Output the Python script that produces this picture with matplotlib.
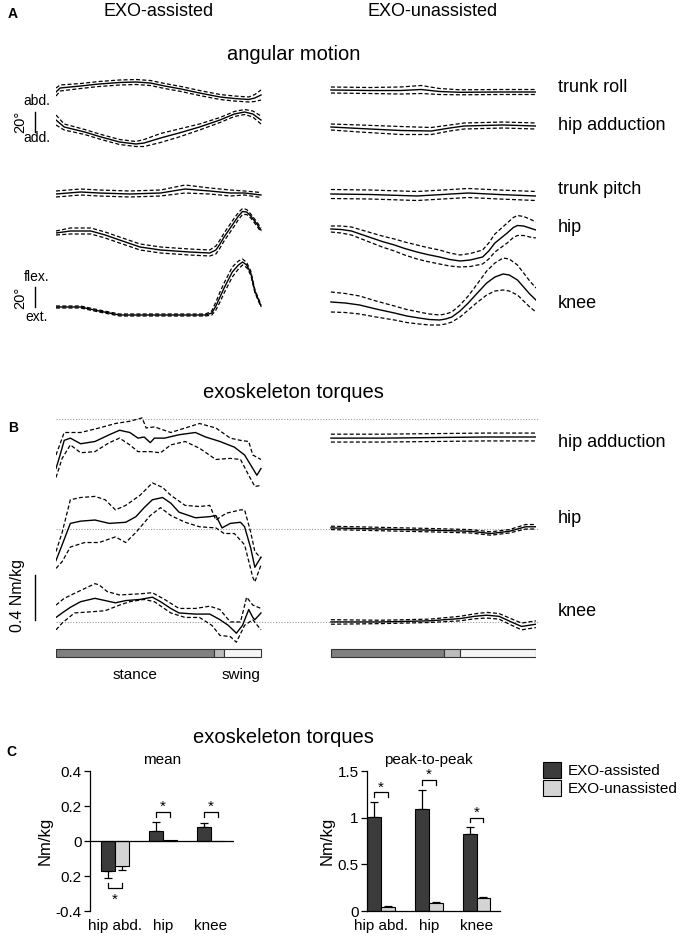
import numpy as np
import matplotlib
matplotlib.use('Agg')
import matplotlib.pyplot as plt
from matplotlib.patches import Patch

plt.rcParams['font.family'] = ['Liberation Sans', 'DejaVu Sans']

# ---------------------------------------------------------------
# A: angular motion (deg) over gait cycle (%), ex = EXO-assisted, un = EXO-unassisted
roll_ex_t = [0, 2, 12, 21, 31, 39, 46, 53, 61, 70, 80, 87, 94, 97, 100]
roll_ex_m = [0, 4, 6, 8, 9.5, 10, 9, 6, 3, -1, -5, -6.5, -7.5, -6, -3]
roll_ex_sd = [4, 3, 2.5, 2.5, 2.5, 2.5, 2.5, 2.5, 2.5, 2.5, 2.5, 2.5, 2.5, 3.5, 5]

hadd_ex_t = [0, 4, 14, 22, 31, 39, 43, 51, 60, 70, 80, 87, 92, 96, 100]
hadd_ex_m = [0, -7, -12, -17, -22, -24, -23, -18, -13, -7, 0, 6, 8, 6, 0]
hadd_ex_sd = [5, 3, 2.5, 2.5, 2.5, 2.5, 3.5, 4.5, 4, 3, 2.5, 2.5, 2.5, 3, 4]

pitch_ex_t = [0, 12, 21, 36, 51, 63, 75, 85, 92, 100]
pitch_ex_m = [0, 2, 1, 0, 1, 5, 3, 1, 1, -1]
pitch_ex_sd = [3, 3, 3, 3, 3, 4, 3, 3, 2, 2.5]

hip_ex_t = [0, 7, 17, 24, 31, 41, 51, 65, 75, 78, 80, 82, 85, 87, 89, 91, 93, 95, 98, 100]
hip_ex_m = [0, 2, 2, -2, -7, -14, -17, -19, -20, -17, -11, -4, 5, 11, 17, 21.5, 21, 17, 9, 3]
hip_ex_sd = [2, 3, 3, 3, 3, 3, 3, 3, 3, 4, 4, 4, 4, 4, 3.5, 3, 2.5, 2, 2, 2]

knee_ex_t = [0, 12, 21, 31, 51, 73, 76, 78, 80, 82, 84, 86, 89, 91, 93, 95, 97, 100]
knee_ex_m = [0, 0, -4, -8, -8, -8, -6, 1, 10, 19, 27, 35, 42, 45, 42, 34, 16, 1]
knee_ex_sd = [1, 1, 1, 1, 1, 1, 2, 4, 5, 5, 5, 5, 4, 3, 2.5, 2, 1.5, 1]

roll_un_t = [0, 19, 34, 44, 53, 63, 82, 100]
roll_un_m = [0, -0.5, -0.5, 0.5, -1.5, -2.3, -2, -2]
roll_un_sd = [3, 3, 3.5, 4, 3, 2.5, 2.5, 2.5]

hadd_un_t = [0, 14, 34, 49, 58, 65, 84, 100]
hadd_un_m = [0, -1.5, -3.5, -4, -1, 1, 2, 1]
hadd_un_sd = [3, 3.5, 4, 3.5, 3, 3, 3, 3]

pitch_un_t = [0, 19, 42, 67, 82, 100]
pitch_un_m = [0, -0.5, -2, 1, -0.5, -2]
pitch_un_sd = [4.5, 4.5, 4.5, 4.5, 4.5, 4.5]

hip_un_t = [0, 5, 10, 15, 20, 25, 31, 36, 42, 47, 53, 58, 63, 68, 74, 77, 80, 83, 86, 89, 91, 94, 97, 100]
hip_un_m = [0, -0.5, -2, -5.5, -9, -12.5, -16, -19.5, -23, -25.5, -28, -30.5, -32, -31, -28, -22,
            -14, -9, -4, 1.5, 3.5, 3, 1, -1]
hip_un_sd = [3, 3.5, 4, 4.5, 5, 5.5, 6, 6.5, 7, 7, 7, 6.5, 6, 6.5, 7, 8, 9, 9.5, 10, 10, 10,
             9.5, 9, 8]

knee_un_t = [0, 7, 14, 22, 31, 37, 43, 48, 53, 56, 59, 63, 67, 71, 76, 80, 84, 87, 91, 94, 97, 100]
knee_un_m = [0, -1, -3, -7, -11, -14, -16, -17.5, -18, -17, -15, -9, -1, 8, 19, 25, 28, 27, 22,
             15, 8, 2]
knee_un_sd = [10, 9.5, 9, 8, 7, 6.5, 6, 5.5, 5, 5, 5, 6, 7, 9, 12, 14, 16, 16, 15, 14, 13, 12]

# ---------------------------------------------------------------
# B: exoskeleton torques (Nm/kg); assisted: mean, upper and lower dashed
tadd_ex_t = [0, 2, 4, 7, 12, 19, 26, 31, 36, 40, 43, 46, 48, 53, 60, 68, 73, 80, 87, 92, 96, 98, 100]
tadd_ex_m = [-0.44, -0.32, -0.19, -0.17, -0.22, -0.20, -0.14, -0.10, -0.12, -0.17, -0.16, -0.21,
             -0.17, -0.17, -0.14, -0.12, -0.16, -0.20, -0.25, -0.32, -0.44, -0.50, -0.44]
tadd_ex_hi_t = [0, 4, 12, 21, 29, 36, 42, 44, 48, 56, 63, 70, 78, 85, 90, 94, 96, 100]
tadd_ex_hi = [-0.32, -0.12, -0.12, -0.08, -0.04, -0.02, 0.01, -0.08, -0.07, -0.12, -0.08, -0.04,
              -0.08, -0.17, -0.19, -0.20, -0.32, -0.36]
tadd_ex_lo_t = [0, 3, 7, 12, 19, 26, 31, 36, 40, 46, 51, 56, 63, 70, 78, 85, 90, 94, 97, 100]
tadd_ex_lo = [-0.52, -0.35, -0.23, -0.30, -0.29, -0.21, -0.17, -0.23, -0.29, -0.29, -0.30, -0.23,
              -0.20, -0.26, -0.36, -0.35, -0.36, -0.50, -0.60, -0.59]

thip_ex_t = [0, 3, 7, 12, 19, 26, 34, 39, 43, 47, 52, 56, 60, 68, 75, 78, 81, 85, 90, 92, 95, 97, 100]
thip_ex_m = [-0.28, -0.14, 0.05, 0.07, 0.08, 0.05, 0.06, 0.11, 0.19, 0.26, 0.28, 0.23, 0.15, 0.10,
             0.11, 0.12, 0.01, 0.05, 0.06, 0.02, -0.17, -0.34, -0.25]
thip_ex_hi_t = [0, 3, 7, 12, 19, 24, 29, 34, 41, 47, 52, 56, 63, 70, 75, 78, 83, 90, 92, 95, 97, 100]
thip_ex_hi = [-0.20, -0.03, 0.26, 0.28, 0.29, 0.26, 0.17, 0.21, 0.30, 0.41, 0.37, 0.30, 0.21, 0.20,
              0.21, 0.08, 0.14, 0.17, 0.17, -0.03, -0.20, -0.26]
thip_ex_lo_t = [0, 3, 7, 14, 21, 29, 34, 39, 46, 51, 56, 63, 70, 78, 82, 87, 92, 96, 97, 100]
thip_ex_lo = [-0.35, -0.29, -0.16, -0.12, -0.12, -0.07, -0.12, -0.03, 0.12, 0.19, 0.12, 0.06, 0.02,
              0.01, -0.04, -0.04, -0.14, -0.43, -0.47, -0.32]

tknee_ex_t = [0, 3, 7, 12, 19, 24, 29, 34, 41, 47, 51, 56, 60, 68, 75, 80, 84, 88, 91, 94, 96, 97, 100]
tknee_ex_m = [0.04, 0.08, 0.13, 0.18, 0.21, 0.19, 0.17, 0.19, 0.20, 0.22, 0.18, 0.12, 0.08, 0.07,
              0.07, 0.02, -0.03, -0.10, -0.03, 0.11, 0.04, 0.02, 0.08]
tknee_ex_hi_t = [0, 4, 12, 19, 21, 25, 31, 41, 47, 53, 60, 68, 75, 80, 85, 90, 93, 96, 100]
tknee_ex_hi = [0.15, 0.21, 0.28, 0.34, 0.33, 0.27, 0.24, 0.25, 0.26, 0.20, 0.12, 0.12, 0.14, 0.11,
               0.00, 0.00, 0.22, 0.15, 0.12]
tknee_ex_lo_t = [0, 3, 9, 17, 24, 31, 36, 43, 48, 56, 63, 70, 76, 80, 85, 88, 92, 96, 100]
tknee_ex_lo = [-0.07, -0.01, 0.08, 0.09, 0.10, 0.15, 0.18, 0.20, 0.18, 0.08, 0.04, 0.04, -0.03,
               -0.12, -0.13, -0.18, -0.03, 0.02, -0.07]

# unassisted: mean and sd
tadd_un_t = [0, 25, 50, 75, 100]
tadd_un_m = [-0.17, -0.17, -0.165, -0.16, -0.16]
tadd_un_sd = [0.035, 0.035, 0.035, 0.035, 0.035]

thip_un_t = [0, 24, 48, 68, 78, 87, 95, 100]
thip_un_m = [0.01, 0.00, -0.01, -0.02, -0.04, -0.02, 0.02, 0.02]
thip_un_sd = [0.015, 0.015, 0.015, 0.015, 0.015, 0.015, 0.02, 0.02]

tknee_un_t = [0, 24, 48, 63, 70, 76, 82, 88, 93, 100]
tknee_un_m = [0.00, 0.00, 0.01, 0.03, 0.05, 0.06, 0.05, 0.0, -0.04, -0.02]
tknee_un_sd = [0.02, 0.015, 0.015, 0.02, 0.022, 0.025, 0.025, 0.028, 0.03, 0.03]

# gait phases (% of cycle): stance end, double support end
phase_ex = [0, 77, 82, 100]
phase_un = [0, 55, 63, 100]

# ---------------------------------------------------------------
# C: bar summary (Nm/kg)
joints = ['hip abd.', 'hip', 'knee']
mean_ex = [-0.17, 0.055, 0.08]
mean_ex_err = [0.044, 0.052, 0.023]
mean_un = [-0.145, 0.003, 0.002]
mean_un_err = [0.018, 0.0, 0.0]
mean_sig = [-0.27, 0.164, 0.164]

p2p_ex = [1.01, 1.09, 0.82]
p2p_ex_err = [0.16, 0.21, 0.08]
p2p_un = [0.046, 0.082, 0.136]
p2p_un_err = [0.011, 0.013, 0.017]
p2p_sig = [1.27, 1.40, 1.00]

# ---------------------------------------------------------------
W, H = 680, 938
fig = plt.figure(figsize=(W / 100, H / 100), dpi=100)


def rect(x0, y0, x1, y1):
    return [x0 / W, 1 - y1 / H, (x1 - x0) / W, (y1 - y0) / H]


def ftext(x, y, s, **kw):
    kw.setdefault('ha', 'center')
    kw.setdefault('va', 'center')
    fig.text(x / W, 1 - y / H, s, **kw)


DK = '#3b3b3b'
LT = '#d4d4d4'
SH = 134.1          # x-shift of right column (% units)
dash = dict(ls=(0, (3.2, 1.8)), lw=0.9, color='k')

# ----- panel A
axA = fig.add_axes(rect(56, 65, 536, 335))
axA.set_xlim(0, 480 / 2.05)
axA.set_ylim(0, 270)
axA.axis('off')

tracesA = [
    (roll_ex_t, roll_ex_m, roll_ex_sd, 243, 0),
    (hadd_ex_t, hadd_ex_m, hadd_ex_sd, 215, 0),
    (pitch_ex_t, pitch_ex_m, pitch_ex_sd, 141, 0),
    (hip_ex_t, hip_ex_m, hip_ex_sd, 102, 0),
    (knee_ex_t, knee_ex_m, knee_ex_sd, 28, 0),
    (roll_un_t, roll_un_m, roll_un_sd, 245, SH),
    (hadd_un_t, hadd_un_m, hadd_un_sd, 208, SH),
    (pitch_un_t, pitch_un_m, pitch_un_sd, 141, SH),
    (hip_un_t, hip_un_m, hip_un_sd, 106, SH),
    (knee_un_t, knee_un_m, knee_un_sd, 33, SH),
]
for t, m, sd, off, sh in tracesA:
    t = np.array(t) + sh
    m = np.array(m) + off
    sd = np.array(sd)
    axA.plot(t, m, color='k', lw=1.0)
    axA.plot(t, m + sd, **dash)
    axA.plot(t, m - sd, **dash)

# 20 deg scale bars
axA.plot([-10.2, -10.2], [203, 223], color='k', lw=1.0, clip_on=False)
axA.plot([-10.2, -10.2], [28, 48], color='k', lw=1.0, clip_on=False)

# ----- panel B
axB = fig.add_axes(rect(56, 405, 536, 662))
axB.set_xlim(0, 480 / 2.05)
axB.set_ylim(0, 257 / 112.5)
axB.axis('off')

for off in [2.16, 1.182, 0.356]:
    axB.plot([0, 235.6], [off, off], ls=(0, (1, 1.5)), color='#9a9a9a', lw=0.8, clip_on=False)

tracesB = [
    (tadd_ex_t, tadd_ex_m, tadd_ex_hi_t, tadd_ex_hi, tadd_ex_lo_t, tadd_ex_lo, 2.16),
    (thip_ex_t, thip_ex_m, thip_ex_hi_t, thip_ex_hi, thip_ex_lo_t, thip_ex_lo, 1.182),
    (tknee_ex_t, tknee_ex_m, tknee_ex_hi_t, tknee_ex_hi, tknee_ex_lo_t, tknee_ex_lo, 0.356),
]
for t, m, th, hi, tl, lo, off in tracesB:
    axB.plot(t, np.array(m) + off, color='k', lw=1.0)
    axB.plot(th, np.array(hi) + off, **dash)
    axB.plot(tl, np.array(lo) + off, **dash)

for t, m, sd, off in [(tadd_un_t, tadd_un_m, tadd_un_sd, 2.16),
                      (thip_un_t, thip_un_m, thip_un_sd, 1.182),
                      (tknee_un_t, tknee_un_m, tknee_un_sd, 0.356)]:
    t = np.array(t) + SH
    m = np.array(m) + off
    sd = np.array(sd)
    axB.plot(t, m, color='k', lw=1.0)
    axB.plot(t, m + sd, **dash)
    axB.plot(t, m - sd, **dash)

# 0.4 Nm/kg scale bar
axB.plot([-10.2, -10.2], [0.373, 0.773], color='k', lw=1.0, clip_on=False)

# gait phase bars
phase_cols = ['#808080', '#bcbcbc', '#f6f6f6']
for ph, sh in [(phase_ex, 0), (phase_un, SH)]:
    for i in range(3):
        axB.barh(0.08, ph[i + 1] - ph[i], left=ph[i] + sh, height=0.072,
                 color=phase_cols[i], edgecolor='#333333', lw=0.8)

# ----- panel C
grp = np.arange(3)
w = 0.29

axL = fig.add_axes(rect(90, 771, 234, 911))
axL.set_xlim(-0.52, 2.48)
axL.set_ylim(-0.4, 0.4)
axL.bar(grp - w / 2, mean_ex, w, color=DK, edgecolor='k', lw=0.8, zorder=2)
axL.bar(grp + w / 2, mean_un, w, color=LT, edgecolor='k', lw=0.8, zorder=2)
for x, v, e in [(grp - w / 2, mean_ex, mean_ex_err), (grp + w / 2, mean_un, mean_un_err)]:
    v = np.array(v)
    e = np.array(e)
    lower = np.where(v < 0, e, 0)
    upper = np.where(v >= 0, e, 0)
    keep = e > 0
    axL.errorbar(x[keep], v[keep], yerr=[lower[keep], upper[keep]], fmt='none',
                 ecolor='k', elinewidth=0.9, capsize=3, capthick=0.9, zorder=1)
axL.axhline(0, color='k', lw=0.9, zorder=3)
for g, s in zip(grp, mean_sig):
    d = 0.028 if s < 0 else -0.028
    axL.plot([g - w / 2, g - w / 2, g + w / 2, g + w / 2], [s + d, s, s, s + d], color='k', lw=0.9)
    if s < 0:
        axL.text(g, s - 0.025, '*', ha='center', va='top', fontsize=11)
    else:
        axL.text(g, s - 0.01, '*', ha='center', va='bottom', fontsize=11)
axL.set_yticks([0.4, 0.2, 0, -0.2, -0.4])
axL.set_yticklabels(['0.4', '0.2', '0', '0.2', '-0.4'], fontsize=11)
axL.set_xticks(grp)
axL.set_xticklabels(joints, fontsize=11)
axL.tick_params(axis='x', length=0, pad=6)
axL.tick_params(axis='y', length=4, width=0.9, pad=2)
for sp in ['top', 'right', 'bottom']:
    axL.spines[sp].set_visible(False)
axL.spines['left'].set_linewidth(0.9)
axL.set_ylabel('Nm/kg', fontsize=12, labelpad=2)

axR = fig.add_axes(rect(367, 771, 500, 911))
axR.set_xlim(-0.29, 2.49)
axR.set_ylim(0, 1.5)
axR.bar(grp - w / 2, p2p_ex, w, color=DK, edgecolor='k', lw=0.8, zorder=2)
axR.bar(grp + w / 2, p2p_un, w, color=LT, edgecolor='k', lw=0.8, zorder=2)
for x, v, e in [(grp - w / 2, p2p_ex, p2p_ex_err), (grp + w / 2, p2p_un, p2p_un_err)]:
    axR.errorbar(x, v, yerr=[np.zeros(3), e], fmt='none', ecolor='k',
                 elinewidth=0.9, capsize=3, capthick=0.9, zorder=1)
for g, s in zip(grp, p2p_sig):
    axR.plot([g - w / 2, g - w / 2, g + w / 2, g + w / 2], [s - 0.05, s, s, s - 0.05], color='k', lw=0.9)
    axR.text(g, s - 0.02, '*', ha='center', va='bottom', fontsize=11)
axR.set_yticks([0, 0.5, 1, 1.5])
axR.set_yticklabels(['0', '0.5', '1', '1.5'], fontsize=11)
axR.set_xticks(grp)
axR.set_xticklabels(joints, fontsize=11)
axR.tick_params(axis='x', length=0, pad=6)
axR.tick_params(axis='y', length=4, width=0.9, pad=2)
for sp in ['top', 'right']:
    axR.spines[sp].set_visible(False)
axR.spines['left'].set_linewidth(0.9)
axR.spines['bottom'].set_linewidth(0.9)
axR.set_ylabel('Nm/kg', fontsize=12, labelpad=2)

axR.legend(handles=[Patch(facecolor=DK, edgecolor='k', lw=0.8),
                    Patch(facecolor=LT, edgecolor='k', lw=0.8)],
           labels=['EXO-assisted', 'EXO-unassisted'], loc='upper left',
           bbox_to_anchor=(543 / W, 1 - 762 / H), bbox_transform=fig.transFigure,
           frameon=False, fontsize=11, handlelength=1.2, handleheight=1.2,
           handletextpad=0.4, labelspacing=0.15, borderpad=0, borderaxespad=0)

# ----- texts
ftext(8, 14, 'A', ha='left', fontsize=10, fontweight='bold')
ftext(8, 428, 'B', ha='left', fontsize=10, fontweight='bold')
ftext(6, 752, 'C', ha='left', fontsize=10, fontweight='bold')
ftext(159, 12, 'EXO-assisted', fontsize=13)
ftext(433, 12, 'EXO-unassisted', fontsize=13)
ftext(294, 55, 'angular motion', fontsize=14.5)
ftext(293, 392, 'exoskeleton torques', fontsize=14.5)
ftext(283, 737, 'exoskeleton torques', fontsize=14.5)

for y, s in [(88, 'trunk roll'), (125, 'hip adduction'), (190, 'trunk pitch'),
             (227, 'hip'), (303, 'knee'), (442, 'hip adduction'), (518, 'hip'), (611, 'knee')]:
    ftext(558, y, s, ha='left', fontsize=13)

ftext(37, 101, 'abd.', fontsize=10)
ftext(37, 138, 'add.', fontsize=10)
ftext(20, 122, '20°', fontsize=10.5, rotation=90)
ftext(37, 277, 'flex.', fontsize=10)
ftext(37, 317, 'ext.', fontsize=10)
ftext(20, 298, '20°', fontsize=10.5, rotation=90)
ftext(18, 595, '0.4 Nm/kg', fontsize=11.5, rotation=90)
ftext(135, 675, 'stance', fontsize=11)
ftext(241, 675, 'swing', fontsize=11)
ftext(162, 760, 'mean', fontsize=11)
ftext(428, 760, 'peak-to-peak', fontsize=11)

fig.savefig('out.png', dpi=100, facecolor='white')
